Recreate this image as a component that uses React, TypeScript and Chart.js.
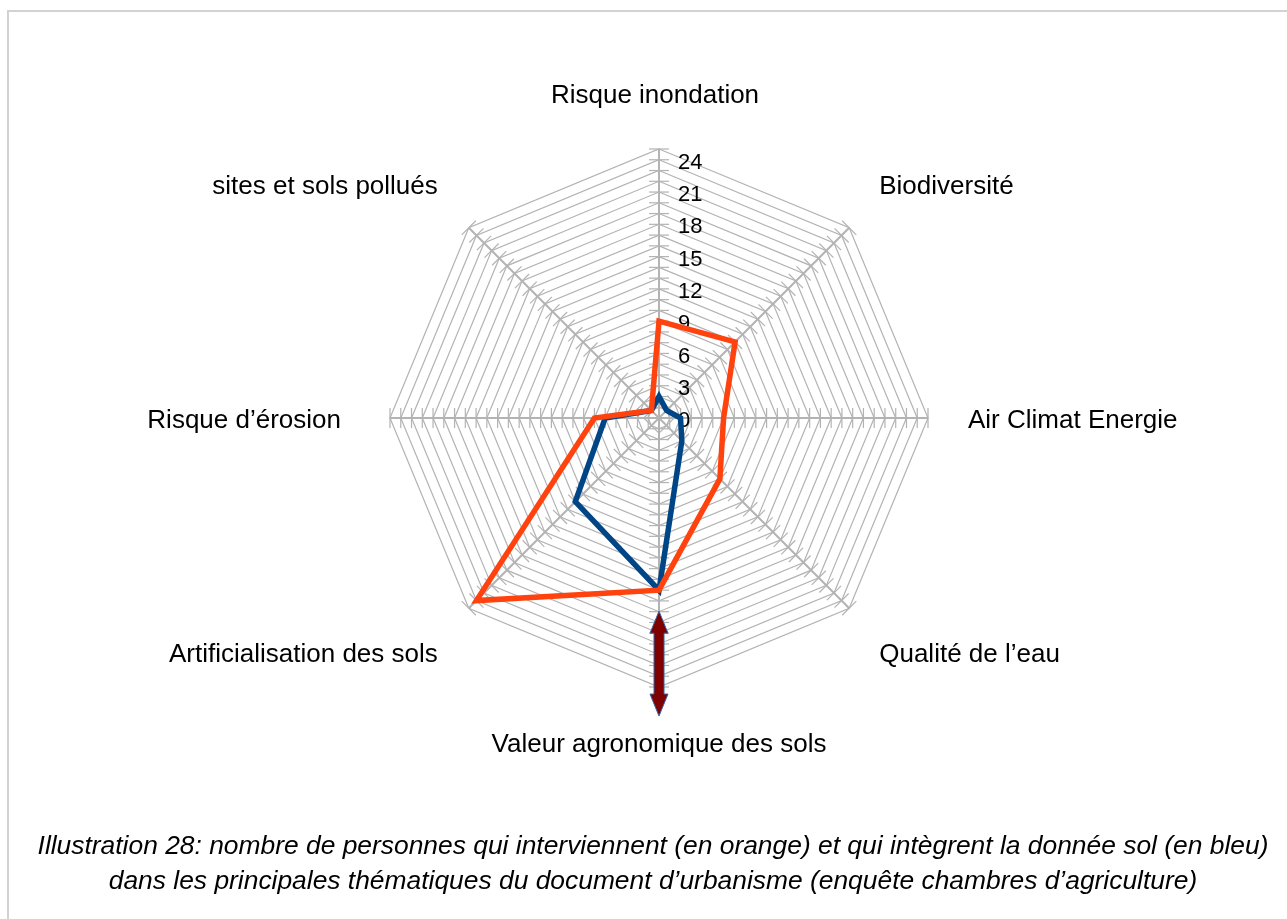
import React, { useEffect, useRef } from "react";
import { Chart, registerables } from "chart.js";

Chart.register(...registerables);

const categories = [
  "Risque inondation",
  "Biodiversité",
  "Air Climat Energie",
  "Qualité de l’eau",
  "Valeur agronomique des sols",
  "Artificialisation des sols",
  "Risque d’érosion",
  "sites et sols pollués",
];
// orange: people who intervene
const interveningValues = [9, 10, 6, 8, 16, 24, 6, 1];
// blue: people who integrate soil data
const soilDataValues = [2, 1, 2, 3, 16, 11, 5, 1];
const tickLabels = [0, 3, 6, 9, 12, 15, 18, 21, 24];
const axisMax = 25;
const captionLines = [
  "Illustration 28: nombre de personnes qui interviennent (en orange) et qui intègrent la donnée sol (en bleu)",
  "dans les principales thématiques du document d’urbanisme (enquête chambres d’agriculture)",
];

const W = 1287;
const H = 919;
const FONT = '"Liberation Sans", Arial, sans-serif';

// label offsets from outer vertex, per direction
const labelOffsets: [number, number, CanvasTextAlign][] = [
  [-4, -53, "center"],
  [30, -41, "left"],
  [40, 3, "left"],
  [30, 47, "left"],
  [0, 58, "center"],
  [-31, 47, "right"],
  [-49, 3, "right"],
  [-31, -41, "right"],
];

const radarDecor = {
  id: "radarDecor",
  beforeDatasetsDraw(chart: any) {
    const s = chart.scales.r;
    const ctx = chart.ctx;
    ctx.save();
    // tick marks on each spoke
    ctx.strokeStyle = "#b3b3b3";
    ctx.lineWidth = 1.2;
    for (let i = 0; i < categories.length; i++) {
      const outer = s.getPointPosition(i, s.drawingArea);
      const ang = Math.atan2(outer.y - s.yCenter, outer.x - s.xCenter);
      const px = -Math.sin(ang);
      const py = Math.cos(ang);
      for (let v = 1; v <= axisMax; v++) {
        const p = s.getPointPositionForValue(i, v);
        ctx.beginPath();
        ctx.moveTo(p.x - px * 10, p.y - py * 10);
        ctx.lineTo(p.x + px * 10, p.y + py * 10);
        ctx.stroke();
      }
    }
    // tick labels
    ctx.fillStyle = "#000";
    ctx.font = `22px ${FONT}`;
    ctx.textAlign = "left";
    ctx.textBaseline = "middle";
    for (const t of tickLabels) {
      const p = s.getPointPositionForValue(0, t);
      ctx.fillText(String(t), p.x + 19, p.y + 3);
    }
    ctx.restore();
  },
  afterDraw(chart: any) {
    const s = chart.scales.r;
    const ctx = chart.ctx;
    ctx.save();
    ctx.fillStyle = "#000";
    ctx.font = `26px ${FONT}`;
    ctx.textBaseline = "middle";
    categories.forEach((c, i) => {
      const p = s.getPointPosition(i, s.drawingArea);
      const [dx, dy, al] = labelOffsets[i];
      ctx.textAlign = al;
      ctx.fillText(c, p.x + dx, p.y + dy);
    });
    // double arrow below the chart centre
    const x = s.xCenter;
    const y1 = s.yCenter + s.drawingArea * 0.718;
    const y2 = s.yCenter + s.drawingArea * 1.108;
    const hw = 9;
    const sw = 5;
    const hl = 22;
    ctx.beginPath();
    ctx.moveTo(x, y1);
    ctx.lineTo(x + hw, y1 + hl);
    ctx.lineTo(x + sw, y1 + hl);
    ctx.lineTo(x + sw, y2 - hl);
    ctx.lineTo(x + hw, y2 - hl);
    ctx.lineTo(x, y2);
    ctx.lineTo(x - hw, y2 - hl);
    ctx.lineTo(x - sw, y2 - hl);
    ctx.lineTo(x - sw, y1 + hl);
    ctx.lineTo(x - hw, y1 + hl);
    ctx.closePath();
    ctx.fillStyle = "#7f0000";
    ctx.fill();
    ctx.strokeStyle = "#3465a4";
    ctx.lineWidth = 1;
    ctx.stroke();
    ctx.restore();
  },
};

export default function App() {
  const ref = useRef<HTMLCanvasElement>(null);
  useEffect(() => {
    if (!ref.current) return;
    const chart = new Chart(ref.current, {
      type: "radar",
      data: {
        labels: categories,
        datasets: [
          {
            label: "intègrent la donnée sol",
            data: soilDataValues,
            borderColor: "#004586",
            backgroundColor: "transparent",
            borderWidth: 5.5,
            pointRadius: 0,
            fill: false,
            order: 1,
          },
          {
            label: "interviennent",
            data: interveningValues,
            borderColor: "#ff420e",
            backgroundColor: "transparent",
            borderWidth: 5.5,
            pointRadius: 0,
            fill: false,
            order: 0,
          },
        ],
      },
      options: {
        responsive: false,
        animation: false,
        layout: { padding: { left: 390, right: W - 928, top: 149, bottom: H - 149 - 538 } },
        plugins: { legend: { display: false }, tooltip: { enabled: false } },
        scales: {
          r: {
            min: 0,
            max: axisMax,
            ticks: { stepSize: 1, display: false },
            grid: { color: "#b3b3b3", lineWidth: 1.2 },
            angleLines: { color: "#b3b3b3", lineWidth: 2 },
            pointLabels: { display: false },
          },
        },
      },
      plugins: [radarDecor],
    });
    return () => chart.destroy();
  }, []);

  return (
    <div>
      <div
        style={{
          position: "fixed",
          left: 7,
          top: 10,
          right: -20,
          bottom: -20,
          border: "2px solid #d2d2d2",
        }}
      />
      <canvas
        ref={ref}
        width={W}
        height={H}
        style={{ position: "fixed", left: 0, top: 0, width: W, height: H }}
      />
      <div
        style={{
          position: "fixed",
          left: 19,
          right: 0,
          top: 828,
          textAlign: "center",
          fontFamily: FONT,
          fontStyle: "italic",
          fontSize: 26.4,
          lineHeight: "35px",
          color: "#000",
          whiteSpace: "nowrap",
        }}
      >
        {captionLines.map((l, i) => (
          <div key={i}>{l}</div>
        ))}
      </div>
    </div>
  );
}
